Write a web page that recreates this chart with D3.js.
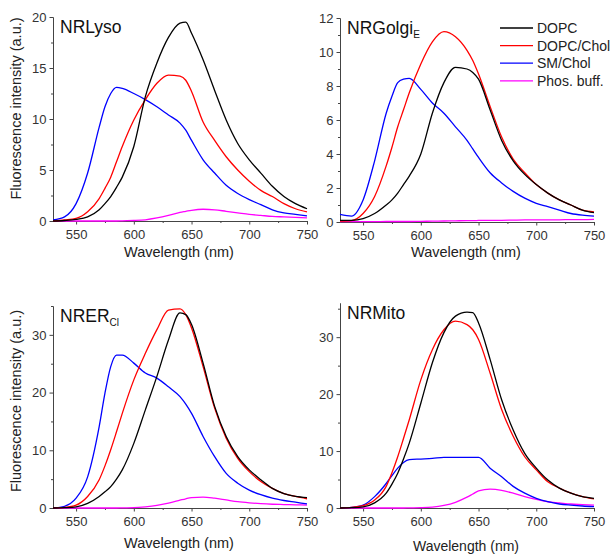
<!DOCTYPE html>
<html lang="en">
<head>
<meta charset="UTF-8">
<title>Fluorescence spectra</title>
<style>
  body { margin: 0; background: #fff; }
  svg { font-family: "Liberation Sans", Arial, sans-serif; }
  .axis path, .axis line { stroke: #444; }
  .axis text { fill: #333; font-size: 13px; }
</style>
</head>
<body>
<svg width="613" height="554"></svg>
<script src="https://d3js.org/d3.v7.min.js"></script>
<script>

// wavelengths (nm) shared by every spectrum
var wavelength = [530,540,550,560,570,575,580,585,590,600,610,620,630,640,645,650,660,670,680,690,700,710,720,730,740,750];

var seriesNames = ['DOPC', 'DOPC/Chol', 'SM/Chol', 'Phos. buff.'];
var xTicks = [550, 600, 650, 700, 750];

// NRLyso
var lysoDOPC  = [0,0.05,0.15,0.4,1.1,1.7,2.4,3.3,4.3,7.3,12.2,15.5,18.0,19.4,19.5,18.4,15.8,12.8,9.9,7.6,6.0,4.7,3.4,2.4,1.7,1.2];
var lysoChol  = [0,0.1,0.25,0.9,2.2,3.2,4.3,5.8,7.3,9.9,11.9,13.5,14.3,14.2,13.8,12.7,9.7,7.9,6.3,5.0,3.9,3.0,2.4,1.7,1.2,0.9];
var lysoSM    = [0.1,0.4,1.7,4.7,9.2,11.2,12.5,13.1,13.0,12.5,11.9,11.2,10.4,9.6,8.9,7.9,6.0,4.7,3.5,2.7,2.1,1.6,1.1,0.8,0.65,0.5];
var lysoBuff  = [0,0,0,0,0,0,0,0,0.02,0.05,0.12,0.3,0.55,0.85,0.95,1.05,1.15,1.1,0.95,0.8,0.65,0.55,0.45,0.4,0.35,0.3];
var lysoYTicks = [0, 5, 10, 15, 20];

// NRGolgi_E
var golgiDOPC = [0.1,0.1,0.2,0.5,1.0,1.3,1.7,2.2,2.7,4.0,6.4,8.2,9.1,9.0,8.8,8.4,6.6,4.8,3.6,2.8,2.2,1.7,1.3,1.0,0.7,0.55];
var golgiChol = [0.05,0.08,0.5,1.5,3.3,4.4,5.6,6.6,7.6,9.3,10.6,11.2,10.9,10.1,9.5,8.7,6.8,5.0,3.7,2.9,2.2,1.7,1.3,1.0,0.7,0.6];
var golgiSM   = [0.45,0.35,1.3,3.6,6.4,7.4,8.2,8.4,8.45,7.8,7.0,6.4,5.6,4.8,4.3,3.8,2.9,2.3,1.8,1.4,1.1,0.9,0.7,0.5,0.4,0.35];
var golgiBuff = [0.02,0.02,0.02,0.02,0.03,0.03,0.03,0.03,0.03,0.04,0.05,0.06,0.07,0.08,0.08,0.09,0.1,0.1,0.11,0.12,0.12,0.13,0.13,0.14,0.14,0.15];
var golgiYTicks = [0, 2, 4, 6, 8, 10, 12];

// NRER_Cl
var erDOPC = [0,0.05,0.2,0.8,2.0,2.8,3.7,5.0,6.6,11.2,17.0,22.8,29.1,33.8,33.5,31.8,25.1,17.6,12.4,8.9,6.6,4.9,3.4,2.5,2.0,1.8];
var erChol = [0,0.1,0.5,2.0,4.9,7.3,10.1,13.2,16.4,22.2,26.8,30.9,34.3,34.5,33.5,31.2,24.5,17.3,12.1,8.6,6.3,4.6,3.4,2.5,2.0,1.6];
var erSM   = [0,0.3,1.7,5.4,14.1,19.9,24.5,26.5,26.5,25.1,23.4,22.5,21.0,19.3,18.0,16.4,12.4,8.9,6.0,4.3,3.1,2.3,1.7,1.3,1.0,0.7];
var erBuff = [0,0,0,0,0,0,0,0,0.02,0.05,0.2,0.45,0.85,1.35,1.6,1.8,1.9,1.7,1.4,1.1,0.9,0.75,0.65,0.6,0.55,0.5];
var erYTicks = [0, 10, 20, 30];

// NRMito
var mitoDOPC = [0,0.05,0.2,0.9,2.6,4.2,6.1,8.6,11.4,18.4,25.5,30.8,33.7,34.4,34.3,32.5,26.1,19.0,13.7,9.6,7.0,4.9,3.5,2.6,2.0,1.7];
var mitoChol = [0,0.1,0.4,1.4,3.8,6.2,9.0,12.2,15.5,22.5,27.8,31.3,32.8,32.2,31.3,29.6,23.7,17.3,12.6,9.0,6.7,4.6,3.5,2.6,2.0,1.6];
var mitoSM   = [0,0.1,0.5,2.0,4.3,5.7,7.0,8.0,8.5,8.6,8.7,8.9,8.9,8.9,8.9,8.9,7.0,5.5,3.8,2.6,1.7,1.1,0.7,0.5,0.35,0.25];
var mitoBuff = [0,0,0,0,0,0,0,0,0.02,0.05,0.15,0.45,1.0,1.9,2.45,3.0,3.3,3.1,2.6,2.0,1.5,1.1,0.9,0.7,0.6,0.5];
var mitoYTicks = [0, 10, 20, 30];

const colors = ['#000000', '#ff0000', '#0000ff', '#ff00ff'];

const panels = [
  {title: 'NRLyso', sub: '', series: [lysoDOPC, lysoChol, lysoSM, lysoBuff], yMax: 20, ticks: lysoYTicks,
   left: 53, top: 17, bottom: 221, yLabelMid: 108.5, xLabelY: 257, xLabelSize: 14.5},
  {title: 'NRGolgi', sub: 'E', series: [golgiDOPC, golgiChol, golgiSM, golgiBuff], yMax: 12, ticks: golgiYTicks,
   left: 340, top: 18, bottom: 222, yLabelMid: null, xLabelY: 257, xLabelSize: 14.5},
  {title: 'NRER', sub: 'Cl', series: [erDOPC, erChol, erSM, erBuff], yMax: 35, ticks: erYTicks,
   left: 53, top: 306, bottom: 508, yLabelMid: 401, xLabelY: 548, xLabelSize: 14.5},
  {title: 'NRMito', sub: '', series: [mitoDOPC, mitoChol, mitoSM, mitoBuff], yMax: 36, ticks: mitoYTicks,
   left: 340, top: 303, bottom: 508, yLabelMid: null, xLabelY: 550.5, xLabelSize: 14}
];

const svg = d3.select('svg');
const plotWidth = 254;

panels.forEach(p => {
  const x = d3.scaleLinear().domain([530, 750]).range([p.left, p.left + plotWidth]);
  const y = d3.scaleLinear().domain([0, p.yMax]).range([p.bottom, p.top]);
  const step = p.ticks[1] - p.ticks[0];
  const minorY = d3.range(step / 2, p.yMax + 0.01, step).filter(v => !p.ticks.includes(v));

  const g = svg.append('g');

  // minor ticks first, then major ticks with labels
  g.append('g').attr('class', 'axis')
    .attr('transform', `translate(0,${p.bottom})`)
    .call(d3.axisBottom(x).tickValues([575, 625, 675, 725]).tickSize(2).tickSizeOuter(0).tickFormat(''));
  g.append('g').attr('class', 'axis')
    .attr('transform', `translate(0,${p.bottom})`)
    .call(d3.axisBottom(x).tickValues(xTicks).tickSize(3.5).tickSizeOuter(0).tickPadding(5));

  g.append('g').attr('class', 'axis')
    .attr('transform', `translate(${p.left},0)`)
    .call(d3.axisLeft(y).tickValues(minorY).tickSize(2).tickSizeOuter(0).tickFormat(''));
  g.append('g').attr('class', 'axis')
    .attr('transform', `translate(${p.left},0)`)
    .call(d3.axisLeft(y).tickValues(p.ticks).tickSize(3.5).tickSizeOuter(0).tickPadding(3));

  const line = d3.line()
    .x((d, i) => x(wavelength[i]))
    .y(d => y(d))
    .curve(d3.curveMonotoneX);

  // draw buffer first so it stays underneath
  [3, 2, 1, 0].forEach(k => {
    g.append('path')
      .datum(p.series[k])
      .attr('d', line)
      .attr('fill', 'none')
      .attr('stroke', colors[k])
      .attr('stroke-width', 1.3);
  });

  const t = g.append('text')
    .attr('x', p.left + 7)
    .attr('y', p.top + 16)
    .attr('font-size', 17.5)
    .attr('fill', '#111')
    .text(p.title);
  if (p.sub) {
    t.append('tspan').attr('font-size', 10).attr('dy', 4).text(p.sub);
  }

  g.append('text')
    .attr('x', p.left + plotWidth / 2 - 1)
    .attr('y', p.xLabelY)
    .attr('text-anchor', 'middle')
    .attr('font-size', p.xLabelSize)
    .attr('fill', '#222')
    .text('Wavelength (nm)');

  if (p.yLabelMid) {
    g.append('text')
      .attr('transform', `translate(21,${p.yLabelMid}) rotate(-90)`)
      .attr('text-anchor', 'middle')
      .attr('font-size', 14.5)
      .attr('fill', '#222')
      .text('Fluorescence intensity (a.u.)');
  }
});

// legend, top right panel
const legend = svg.append('g');
seriesNames.forEach((name, i) => {
  const ly = 28 + i * 17.6;
  legend.append('line')
    .attr('x1', 500).attr('x2', 533)
    .attr('y1', ly).attr('y2', ly)
    .attr('stroke', colors[i]).attr('stroke-width', 1.3);
  legend.append('text')
    .attr('x', 537).attr('y', ly + 5)
    .attr('font-size', 14)
    .attr('fill', '#222')
    .text(name);
});

</script>
</body>
</html>
